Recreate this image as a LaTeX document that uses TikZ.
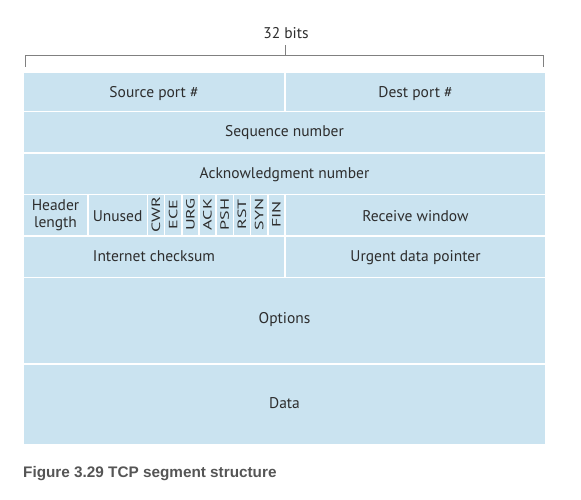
\documentclass[tikz,border=0pt]{standalone}
\usepackage{fontspec}
\setmainfont{PT Sans}
\newfontfamily\capfont{Liberation Sans}
\usepackage{tikz}

\definecolor{cellblue}{RGB}{202,227,240}
\definecolor{txtgray}{RGB}{45,45,45}
\definecolor{capgray}{RGB}{85,85,85}

\begin{document}
\begin{tikzpicture}[x=1pt,y=-1pt,
  cell/.style={fill=cellblue, draw=white, line width=1.6pt},
  lbl/.style={text=txtgray, font=\fontsize{15.5}{17}\selectfont, inner sep=0pt},
  flag/.style={lbl, rotate=90, xscale=1.5, font=\fontsize{12}{13}\selectfont}]

\useasboundingbox (0,0) rectangle (581,500);

% 32 bits bracket
\node[lbl] (bits) at (286,33) {32 bits};
\draw[gray, line width=0.8pt] (25,67) -- (25,55) -- (543,55) -- (543,67);
\draw[gray, line width=0.6pt] (285,55) -- (285,45);

% rows
\draw[cell] (23,72) rectangle (285,111.5);
\draw[cell] (285,72) rectangle (546,111.5);
\draw[cell] (23,111.5) rectangle (546,153);
\draw[cell] (23,153) rectangle (546,194.5);
\draw[cell] (23,194.5) rectangle (88,236);
\draw[cell] (88,194.5) rectangle (147.3,236);
\foreach \i in {0,...,7}{
	\draw[cell] (147.3+\i*17.21,194.5) rectangle (147.3+\i*17.21+17.21,236);
}
\draw[cell] (285,194.5) rectangle (546,236);
\draw[cell] (23,236) rectangle (285,277.5);
\draw[cell] (285,236) rectangle (546,277.5);
\draw[cell] (23,277.5) rectangle (546,364);
\draw[cell] (23,364) rectangle (546,445);

\node[lbl] (src) at (154,94) {Source port \#};
\node[lbl] (dst) at (415.5,94) {Dest port \#};
\node[lbl] (seq) at (284.5,133) {Sequence number};
\node[lbl] (ack) at (284.5,175) {Acknowledgment number};
\node[lbl, align=center] (hlen) at (55.5,215.5) {Header\\length};
\node[lbl] (unused) at (117.6,216.5) {Unused};
\foreach \f [count=\i from 0] in {CWR,ECE,URG,ACK,PSH,RST,SYN,FIN}{
	\node[flag] (flag\i) at (147.3+\i*17.21+8.6,214.5) {\f};
}
\node[lbl] (rwnd) at (415.5,216.5) {Receive window};
\node[lbl] (csum) at (154,256) {Internet checksum};
\node[lbl] (urg) at (415.5,257.5) {Urgent data pointer};
\node[lbl] (opt) at (284.5,320) {Options};
\node[lbl] (data) at (284.5,403) {Data};

% caption
\node[anchor=base west, inner sep=0pt, text=capgray, font=\capfont\bfseries\fontsize{15.3}{17}\selectfont] (cap) at (23,477) {Figure 3.29 TCP segment structure};

\end{tikzpicture}
\end{document}
